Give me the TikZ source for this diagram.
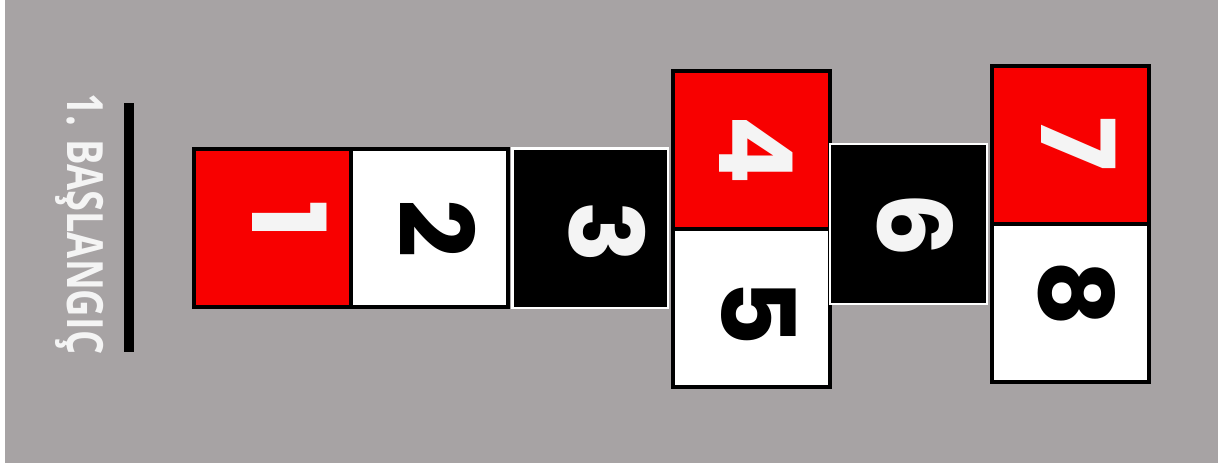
\documentclass[tikz,border=0pt]{standalone}
\usepackage{fontspec}
\newfontfamily\digitfont{Poppins}
\newfontfamily\startfont[FakeStretch=0.76]{Open Sans}
\usepackage{tikz}
\usetikzlibrary{positioning,calc}
\definecolor{court}{RGB}{167,163,164}
\definecolor{hopred}{RGB}{248,0,0}
\definecolor{chalk}{RGB}{244,244,244}

\begin{document}
\begin{tikzpicture}[x=1pt, y=-1pt,
  cell/.style={draw=black, line width=4pt, inner sep=0pt, outer sep=0pt,
               minimum width=157pt, minimum height=158pt},
  redcell/.style={cell, fill=hopred},
  whitecell/.style={cell, fill=white},
  darkcell/.style={cell, fill=black, draw=white, line width=2.5pt},
  num/.style={font=\digitfont\bfseries\fontsize{102}{102}\selectfont,
              rotate=-90, inner sep=0pt},
  wnum/.style={num, text=chalk},
  bnum/.style={num, text=black}]
% ground
\fill[white] (0,0) rectangle (1218,466);
\fill[court] (5,0) rectangle (1218,463);
\useasboundingbox (0,0) rectangle (1218,466);
% start
\node[font=\startfont\bfseries\fontsize{50}{50}\selectfont, text=chalk,
      rotate=-90, anchor=base, inner sep=0pt] (start) at (67,224) {1. BAŞLANGIÇ};
\fill[black] (123.5,103) rectangle (133.5,352);
% cells
\node[redcell] (c1) at (272.5,228) {};
\node[whitecell, right=0pt of c1] (c2) {};
\node[darkcell, minimum width=155.5pt, minimum height=159.5pt] (c3) at (590,228) {};
\node[redcell] (c4) at (751,149.5) {};
\node[whitecell, below=0pt of c4] (c5) {};
\node[darkcell, minimum height=160pt] (c6) at (908.5,224) {};
\node[redcell] (c7) at (1070,145) {};
\node[whitecell, below=0pt of c7] (c8) {};
% numbers
\node[wnum] (n1) at (290,220) {1};
\node[bnum] (n2) at (438,229) {2};
\node[wnum] (n3) at (607,232) {3};
\node[wnum] (n4) at (756,150) {4};
\node[bnum] (n5) at (759,313) {5};
\node[wnum] (n6) at (915,225) {6};
\node[wnum] (n7) at (1079,144) {7};
\node[bnum] (n8) at (1077,294) {8};
\end{tikzpicture}
\end{document}
